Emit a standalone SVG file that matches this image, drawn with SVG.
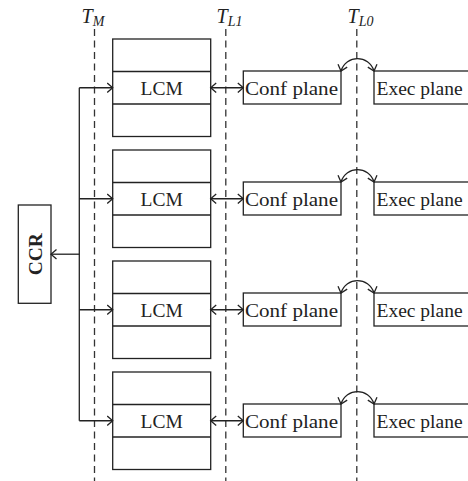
<svg xmlns="http://www.w3.org/2000/svg" width="468" height="481" viewBox="0 0 468 481">
<style>
.box{fill:#fff;stroke:#222;stroke-width:1.3}
.ln{fill:none;stroke:#222;stroke-width:1.3}
.dash{fill:none;stroke:#333;stroke-width:1.3;stroke-dasharray:7 4.5}
.t{font-family:"Liberation Serif",serif;font-size:19.5px;fill:#222}
.it{font-family:"Liberation Serif",serif;font-style:italic;fill:#222}
.arr{marker-end:url(#ah)}
.dbl{marker-start:url(#ah);marker-end:url(#ah)}
</style>
<defs>
<marker id="ah" markerUnits="userSpaceOnUse" markerWidth="12" markerHeight="12" viewBox="-6 -6 12 12" refX="0" refY="0" orient="auto-start-reverse">
<path d="M-5.5,-4.8 L0,0 L-5.5,4.8" fill="none" stroke="#222" stroke-width="1.3"/>
</marker>
</defs>
<g id="timelines">
<line class="dash" x1="94.5" y1="29" x2="94.5" y2="481"/>
<line class="dash" x1="225.8" y1="29" x2="225.8" y2="481"/>
<line class="dash" x1="356.8" y1="29" x2="356.8" y2="481"/>
<text class="it" x="81.5" y="23" font-size="20">T<tspan font-size="14" dy="3">M</tspan></text>
<text class="it" x="216.5" y="23" font-size="20">T<tspan font-size="14" dy="3">L1</tspan></text>
<text class="it" x="347.5" y="23" font-size="20">T<tspan font-size="14" dy="3">L0</tspan></text>
</g>
<g id="ccr">
<rect class="box" x="18.3" y="205" width="32.7" height="98.3"/>
<text class="t" font-weight="bold" text-anchor="middle" transform="translate(41.5,254.2) rotate(-90)">CCR</text>
</g>
<g id="lcm1">
<rect class="box" x="112.7" y="39" width="98" height="97.5"/>
<line class="ln" x1="112.7" y1="71.5" x2="210.7" y2="71.5"/>
<line class="ln" x1="112.7" y1="104" x2="210.7" y2="104"/>
<text class="t" x="161.7" y="94.5" text-anchor="middle">LCM</text>
</g>
<g id="lcm2">
<rect class="box" x="112.7" y="150" width="98" height="97.5"/>
<line class="ln" x1="112.7" y1="182.5" x2="210.7" y2="182.5"/>
<line class="ln" x1="112.7" y1="215" x2="210.7" y2="215"/>
<text class="t" x="161.7" y="205.5" text-anchor="middle">LCM</text>
</g>
<g id="lcm3">
<rect class="box" x="112.7" y="261" width="98" height="97.5"/>
<line class="ln" x1="112.7" y1="293.5" x2="210.7" y2="293.5"/>
<line class="ln" x1="112.7" y1="326" x2="210.7" y2="326"/>
<text class="t" x="161.7" y="316.5" text-anchor="middle">LCM</text>
</g>
<g id="lcm4">
<rect class="box" x="112.7" y="372" width="98" height="97.5"/>
<line class="ln" x1="112.7" y1="404.5" x2="210.7" y2="404.5"/>
<line class="ln" x1="112.7" y1="437" x2="210.7" y2="437"/>
<text class="t" x="161.7" y="427.5" text-anchor="middle">LCM</text>
</g>
<g id="conf1"><rect class="box" x="243.3" y="71" width="97.7" height="33"/><text class="t" x="245" y="94.5" textLength="93" lengthAdjust="spacingAndGlyphs">Conf plane</text></g>
<g id="conf2"><rect class="box" x="243.3" y="182" width="97.7" height="33"/><text class="t" x="245" y="205.5" textLength="93" lengthAdjust="spacingAndGlyphs">Conf plane</text></g>
<g id="conf3"><rect class="box" x="243.3" y="293" width="97.7" height="33"/><text class="t" x="245" y="316.5" textLength="93" lengthAdjust="spacingAndGlyphs">Conf plane</text></g>
<g id="conf4"><rect class="box" x="243.3" y="404" width="97.7" height="33"/><text class="t" x="245" y="427.5" textLength="93" lengthAdjust="spacingAndGlyphs">Conf plane</text></g>
<g id="exec1"><rect class="box" x="374" y="71" width="100" height="33"/><text class="t" x="376.5" y="94.5">Exec plane</text></g>
<g id="exec2"><rect class="box" x="374" y="182" width="100" height="33"/><text class="t" x="376.5" y="205.5">Exec plane</text></g>
<g id="exec3"><rect class="box" x="374" y="293" width="100" height="33"/><text class="t" x="376.5" y="316.5">Exec plane</text></g>
<g id="exec4"><rect class="box" x="374" y="404" width="100" height="33"/><text class="t" x="376.5" y="427.5">Exec plane</text></g>
<g id="connectors">
<line class="ln" x1="79.3" y1="87.75" x2="79.3" y2="420.75"/>
<line class="ln arr" x1="79.3" y1="254.2" x2="51" y2="254.2"/>
<line class="ln arr" x1="79.3" y1="87.75" x2="112.7" y2="87.75"/>
<line class="ln arr" x1="79.3" y1="198.75" x2="112.7" y2="198.75"/>
<line class="ln arr" x1="79.3" y1="309.75" x2="112.7" y2="309.75"/>
<line class="ln arr" x1="79.3" y1="420.75" x2="112.7" y2="420.75"/>
<line class="ln dbl" x1="210.7" y1="87.75" x2="243.3" y2="87.75"/>
<line class="ln dbl" x1="210.7" y1="198.75" x2="243.3" y2="198.75"/>
<line class="ln dbl" x1="210.7" y1="309.75" x2="243.3" y2="309.75"/>
<line class="ln dbl" x1="210.7" y1="420.75" x2="243.3" y2="420.75"/>
<path class="ln dbl" d="M341,71 C346,54.5 369,54.5 374,71"/>
<path class="ln dbl" d="M341,182 C346,165.5 369,165.5 374,182"/>
<path class="ln dbl" d="M341,293 C346,276.5 369,276.5 374,293"/>
<path class="ln dbl" d="M341,404 C346,387.5 369,387.5 374,404"/>
</g>
</svg>
